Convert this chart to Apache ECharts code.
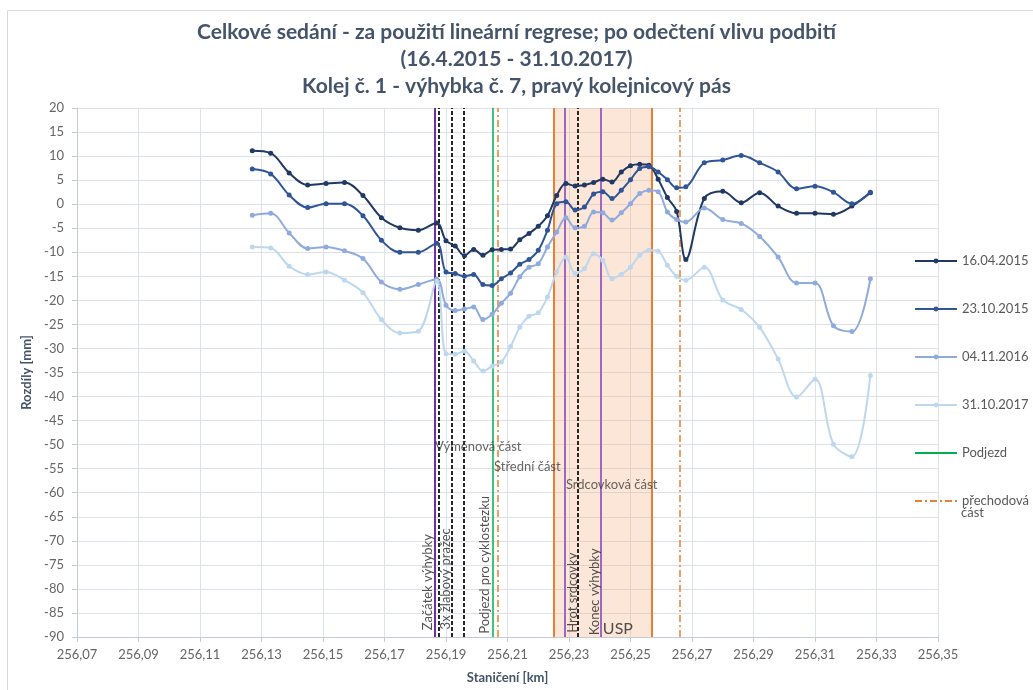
<!DOCTYPE html>
<html>
<head>
<meta charset="utf-8">
<script src="https://cdn.jsdelivr.net/npm/echarts@6/dist/echarts.min.js"></script>
<style>
html,body{margin:0;padding:0;background:#fff;}
#c{width:1033px;height:690px;}
</style>
</head>
<body>
<div id="c"></div>
<script>
// ---- data ----
const stations = [256.127,256.133,256.139,256.145,256.151,256.157,256.163,256.169,256.175,256.181,256.187,
  256.190,256.193,256.196,256.199,256.202,256.205,256.208,256.211,256.214,256.217,256.220,256.223,256.226,
  256.229,256.232,256.235,256.238,256.241,256.244,256.247,256.250,256.253,256.256,256.259,256.262,256.265,256.268,
  256.274,256.280,256.286,256.292,256.298,256.304,256.310,256.316,256.322,256.328];
const s20150416 = [11.1,10.6,6.5,4.0,4.3,4.5,1.8,-2.8,-4.9,-5.4,-3.9,
  -7.6,-8.7,-10.7,-9.4,-10.6,-9.5,-9.4,-9.3,-7.4,-6.1,-4.6,-2.4,1.8,
  4.3,3.8,4.0,4.5,5.2,4.6,6.7,8.0,8.3,8.1,5.2,1.4,-1.5,-11.5,
  1.2,2.7,0.3,2.4,-0.4,-1.9,-1.9,-2.1,-0.4,2.4];
const s20151023 = [7.3,6.3,1.9,-0.7,0.1,0.1,-2.4,-7.5,-10.0,-10.0,-8.1,
  -14.1,-14.4,-15.0,-14.6,-16.7,-16.9,-15.5,-14.3,-12.5,-11.5,-9.6,-5.4,0.1,
  0.5,-1.2,-0.6,2.1,2.6,1.2,2.9,5.1,7.4,7.8,6.7,5.1,3.4,3.6,
  8.6,9.2,10.1,8.6,6.7,3.2,3.75,2.5,0.1,2.5];
const s20161104 = [-2.3,-1.9,-6.0,-9.2,-8.9,-9.7,-11.3,-16.2,-17.7,-16.7,-15.6,
  -21.0,-22.1,-21.8,-21.4,-24.0,-22.9,-20.6,-18.5,-15.1,-13.1,-12.4,-8.9,-5.8,
  -2.8,-4.9,-4.6,-1.6,-1.8,-3.3,-1.8,0.1,2.2,2.9,2.6,-1.6,-3.2,-3.7,
  -0.8,-3.2,-4.0,-6.7,-11.0,-16.4,-16.4,-25.3,-26.5,-15.5];
const s20171031 = [-8.9,-9.1,-12.9,-14.6,-14.1,-15.8,-18.4,-24.0,-26.8,-26.4,-16.0,
  -31.1,-31.2,-30.6,-32.6,-34.7,-33.7,-32.8,-29.6,-25.6,-23.3,-22.6,-19.3,-14.1,
  -11.0,-14.4,-13.4,-10.3,-11.7,-15.5,-14.6,-13.1,-10.6,-9.6,-9.8,-12.7,-15.0,-15.8,
  -13.1,-19.9,-21.9,-25.6,-32.2,-40.1,-36.4,-49.9,-52.5,-35.6];
const seriesNames = ['16.04.2015','23.10.2015','04.11.2016','31.10.2017'];
const seriesValues = [s20150416, s20151023, s20161104, s20171031];

// marker positions [km]
const zacatekVyhybky = [256.1863];
const zlabovePrazce = [256.1876, 256.1919, 256.1959, 256.2330];
const podjezd = [256.2051];
const prechodovaCast = [256.2069, 256.2659];
const uspBounds = [256.2251, 256.2569];
const srdcovkaMarks = [256.2286, 256.2404];

// text annotations [text, km, value]
const rotLabels = [
  ['Začátek výhybky', 256.1841, -78.6],
  ['3x žlabový pražec', 256.1900, -77.9],
  ['Podjezd pro cyklostezku', 256.2027, -75.0],
  ['Hrot srdcovky', 256.2313, -80.8],
  ['Konec výhybky', 256.2385, -80.6]
];
const horLabels = [
  ['Výměnová část', 256.1864, -50.4],
  ['Střední část', 256.2056, -54.7],
  ['Srdcovková část', 256.2290, -58.3]
];
const uspLabel = ['USP', 256.2459, -88.3];

const xTickStart = 256.07, xTickEnd = 256.35, xTickStep = 0.02;
const yMin = -90, yMax = 20, yStep = 5;

// ---- chart ----
const X0 = xTickStart;
const toM = km => +((km - X0) * 1000).toFixed(3);
const FONT = 'Lato';
const colors = ['#203864', '#2f5597', '#8faadc', '#bdd7ee'];

function vLines(arr, style) {
  return arr.map(v => ({ xAxis: toM(v), lineStyle: style }));
}

const series = [];
seriesNames.forEach((n, i) => {
  series.push({
    name: n, type: 'line', z: 5,
    data: stations.map((s, k) => [toM(s), seriesValues[i][k]]),
    smooth: 0.35, symbol: 'circle', symbolSize: 5,
    lineStyle: { width: 2, color: colors[i] },
    itemStyle: { color: colors[i] }
  });
});
series.push({
  name: 'Podjezd', type: 'line', data: [], symbol: 'none', z: 4,
  lineStyle: { color: '#00b050', width: 2 }, itemStyle: { color: '#00b050' },
  markLine: { silent: true, symbol: ['none','none'], label: { show: false },
    data: vLines(podjezd, { color: '#00b050', width: 1.5, type: 'solid' }) }
});
series.push({
  name: 'přechodová část', type: 'line', data: [], symbol: 'none', z: 4,
  lineStyle: { color: '#ed7d31', width: 2, type: [7,3,2,3] }, itemStyle: { color: '#ed7d31' },
  markLine: { silent: true, symbol: ['none','none'], label: { show: false },
    data: vLines(prechodovaCast, { color: '#ed7d31', width: 1.5, type: [7,3,2,3] }) }
});
series.push({
  name: 'helpers', type: 'line', data: [], symbol: 'none', z: 2,
  markArea: { silent: true, itemStyle: { color: 'rgba(244,177,131,0.32)' },
    data: [[{ xAxis: toM(uspBounds[0]) }, { xAxis: toM(uspBounds[1]) }]] },
  markLine: { silent: true, symbol: ['none','none'], label: { show: false },
    data: [].concat(
      vLines(zacatekVyhybky, { color: '#7030a0', width: 2, type: 'solid' }),
      vLines(zlabovePrazce, { color: '#262626', width: 2, type: [4,2] }),
      vLines(uspBounds, { color: '#ed7d31', width: 2, type: 'solid' }),
      vLines(srdcovkaMarks, { color: '#a066c4', width: 2, type: 'solid' })
    ) }
});
const lbl = (extra) => Object.assign({ show: true, position: 'inside', verticalAlign: 'middle', color: '#262626', fontSize: 13, fontFamily: FONT }, extra);
series.push({
  name: 'texts', type: 'scatter', symbolSize: 1, z: 6, silent: true,
  itemStyle: { color: 'rgba(0,0,0,0)' },
  data: [].concat(
    rotLabels.map(l => ({ value: [toM(l[1]), l[2]], label: lbl({ formatter: l[0], rotate: 90, align: 'center' }) })),
    horLabels.map(l => ({ value: [toM(l[1]), l[2]], label: lbl({ formatter: l[0], align: 'left', color: '#404040' }) })),
    [{ value: [toM(uspLabel[1]), uspLabel[2]], label: lbl({ formatter: uspLabel[0], align: 'center', fontSize: 16 }) }]
  )
});

const noDot = { color: 'rgba(0,0,0,0)', borderWidth: 0 };
const chart = echarts.init(document.getElementById('c'), null, { renderer: 'canvas' });
chart.setOption({
  animation: false,
  backgroundColor: '#fff',
  textStyle: { fontFamily: FONT },
  title: {
    text: 'Celkové sedání - za použití lineární regrese; po odečtení vlivu podbití\n(16.4.2015 - 31.10.2017)\nKolej č. 1 - výhybka č. 7, pravý kolejnicový pás',
    left: 'center', top: 14,
    textStyle: { fontFamily: FONT, fontSize: 21, fontWeight: 'bold', color: '#44546a', lineHeight: 27 }
  },
  grid: { left: 77, right: 95, top: 108, bottom: 53, containLabel: false },
  legend: {
    data: ['16.04.2015','23.10.2015','04.11.2016','31.10.2017',
      { name: 'Podjezd', itemStyle: noDot },
      { name: 'přechodová část', itemStyle: noDot }],
    orient: 'vertical', left: 909, top: 249,
    itemWidth: 42, itemHeight: 6, itemGap: 34,
    formatter: n => n === 'přechodová část' ? 'přechodová' : n,
    textStyle: { fontFamily: FONT, fontSize: 13, color: '#595959', lineHeight: 14 }
  },
  xAxis: {
    type: 'value', min: 0, max: toM(xTickEnd), interval: xTickStep * 1000,
    name: 'Staničení [km]', nameLocation: 'middle', nameGap: 34,
    nameTextStyle: { fontFamily: FONT, fontSize: 13, fontWeight: 'bold', color: '#44546a' },
    axisLine: { onZero: false, lineStyle: { color: '#c3cad6', width: 1 } },
    axisTick: { show: true, length: 5, lineStyle: { color: '#c3cad6' } },
    axisLabel: { margin: 11, fontSize: 13, color: '#666', fontFamily: FONT,
      formatter: v => (X0 + v / 1000).toFixed(2).replace('.', ',') },
    splitLine: { show: true, lineStyle: { color: '#dde2ea', width: 1 } }
  },
  yAxis: {
    type: 'value', min: yMin, max: yMax, interval: yStep,
    name: 'Rozdíly [mm]', nameLocation: 'middle', nameGap: 30,
    nameTextStyle: { fontFamily: FONT, fontSize: 13, fontWeight: 'bold', color: '#44546a' },
    axisLine: { show: true, lineStyle: { color: '#c3cad6', width: 1 } },
    axisTick: { show: true, length: 5, lineStyle: { color: '#c3cad6' } },
    axisLabel: { margin: 13, fontSize: 13, color: '#666', fontFamily: FONT },
    splitLine: { show: true, lineStyle: { color: '#dde2ea', width: 1 } }
  },
  graphic: [
    { type: 'rect', z: -10, silent: true, shape: { x: 7.5, y: 10.5, width: 1100, height: 800 },
      style: { fill: 'none', stroke: '#d9d9d9', lineWidth: 1 } },
    { type: 'text', left: 961, top: 506, silent: true,
      style: { text: 'část', fontFamily: FONT, fontSize: 13, fill: '#595959' } }
  ],
  series: series
});
</script>
</body>
</html>
